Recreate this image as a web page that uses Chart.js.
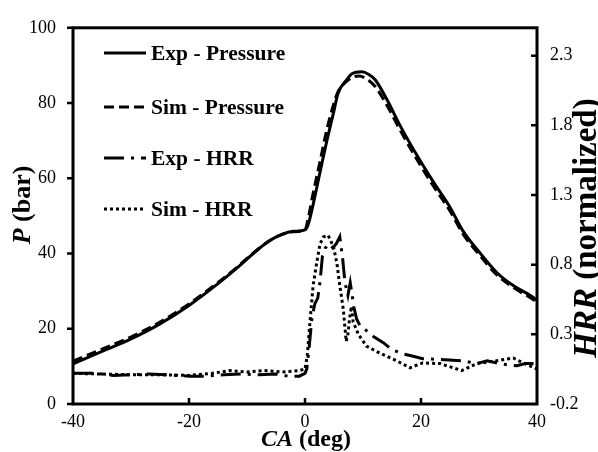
<!DOCTYPE html>
<html>
<head>
<meta charset="utf-8">
<script src="https://cdn.jsdelivr.net/npm/chart.js@4.4.1/dist/chart.umd.min.js"></script>
<style>
html,body{margin:0;padding:0;background:#fff;}
#wrap{width:598px;height:452px;position:relative;}
</style>
</head>
<body>
<div id="wrap"><canvas id="c" width="598" height="452"></canvas></div>
<script>
// ---- data ----
const expPressureCA = [-40,-35,-30,-25,-20,-15,-12,-10,-8,-6,-4,-2,0,0.5,1.4,2.6,3.7,4.9,5.7,7.2,8.1,9.8,11,12.1,14.1,16.4,19.3,22.1,25,27.2,30.2,33.1,35.9,38.8,40];
const expPressureP  = [10.7,14.0,17.3,21.3,26.2,32.0,35.8,38.5,41.2,43.5,45.1,45.9,46.3,47.5,53,61.7,69.5,77.3,82.6,86.2,87.8,88.3,87.6,86.2,81,74,66.1,59.1,52.3,46.1,40.1,34.9,31.5,28.9,27.6];

const simPressureCA = [-40,-35,-30,-25,-20,-15,-12,-10,-8,-6,-4,-2,0,0.5,1.4,2.6,3.7,4.9,5.7,7.2,8.1,9.3,11,12.1,14.1,16.4,19.3,22.1,25,27.2,30.2,33.1,35.9,38.8,40];
const simPressureP  = [11.4,14.6,17.8,21.8,26.6,32.3,36,38.7,41.3,43.5,45,45.8,46.2,49,56,64.5,72.5,79.5,83,85.8,86.8,87.2,86,84.4,79.5,72.8,65,58,51.3,45.3,39.4,34.3,31,28.3,27.1];

const expHrrCA  = [-40,-36,-33,-30,-27,-24,-20,-17,-14,-11,-8,-5,-3,-1,0,0.3,0.7,1.2,1.7,2.2,2.6,3.0,3.5,4.2,4.8,5.4,6.0,6.5,6.9,7.4,7.8,8.1,8.4,8.9,9.5,10.5,11.8,13.5,15,16.9,18.5,20.3,23.3,27.3,29.6,31.4,33.6,35,36.5,38,40];
const expHrrVal = [0.02,0.02,0.005,0.01,0.015,0.01,0.0,0.0,0.01,0.015,0.01,0.015,0.0,0.0,0.02,0.05,0.2,0.42,0.52,0.56,0.68,0.86,0.92,0.95,0.92,0.95,1.0,0.84,0.67,0.58,0.67,0.59,0.5,0.41,0.36,0.33,0.285,0.24,0.19,0.16,0.145,0.125,0.12,0.11,0.09,0.11,0.09,0.08,0.075,0.09,0.09];

const simHrrCA  = [-40,-35,-30,-25,-20,-16,-13,-10,-7,-4,-1,0,0.4,0.9,1.4,2.0,2.6,3.2,4.0,4.9,5.5,6.0,6.6,7.1,7.4,7.7,8.0,8.3,9.2,10.6,12.9,15.8,18.1,20.3,23.3,27,29.6,33,35.9,37.6,40];
const simHrrVal = [0.02,0.015,0.01,0.01,0.005,0.02,0.04,0.03,0.04,0.03,0.04,0.05,0.15,0.41,0.65,0.81,0.95,1.0,1.01,0.93,0.81,0.65,0.48,0.25,0.3,0.42,0.5,0.39,0.3,0.215,0.165,0.11,0.06,0.095,0.09,0.04,0.09,0.11,0.13,0.095,0.05];

const xTicks = [-40,-20,0,20,40];
const pTicks = [0,20,40,60,80,100];
const hrrTicks = [-0.2,0.3,0.8,1.3,1.8,2.3];

const legendLabels = ['Exp - Pressure','Sim - Pressure','Exp - HRR','Sim - HRR'];

const pts = (xs, ys) => xs.map((x,i)=>({x:x,y:ys[i]}));

const SERIF = '"Liberation Serif", "Times New Roman", serif';
const dashes = [[], [10,5], [20,7,3,7], [3,3]];
const widths = [3, 3, 3, 3];

const decorPlugin = {
  id: 'decor',
  afterDraw(chart) {
    const ctx = chart.ctx;
    const a = chart.chartArea;
    const sx = chart.scales.x, sy = chart.scales.y, sr = chart.scales.y1;
    ctx.save();
    ctx.strokeStyle = '#000';
    ctx.fillStyle = '#000';
    // frame
    ctx.lineWidth = 3;
    ctx.setLineDash([]);
    ctx.strokeRect(a.left, a.top, a.right - a.left, a.bottom - a.top);
    // ticks
    ctx.lineWidth = 2.5;
    ctx.beginPath();
    pTicks.forEach(v => { const y = sy.getPixelForValue(v); ctx.moveTo(a.left - 6, y); ctx.lineTo(a.left, y); });
    xTicks.slice(1, -1).forEach(v => { const x = sx.getPixelForValue(v); ctx.moveTo(x, a.bottom); ctx.lineTo(x, a.bottom - 6); });
    hrrTicks.slice(1).forEach(v => { const y = sr.getPixelForValue(v); ctx.moveTo(a.right, y); ctx.lineTo(a.right - 6, y); });
    ctx.stroke();

    // mixed-font text helper
    function drawMixed(parts, cx, cy, rot) {
      ctx.save();
      ctx.translate(cx, cy);
      if (rot) ctx.rotate(rot);
      let total = 0;
      parts.forEach(p => { ctx.font = p[1]; total += ctx.measureText(p[0]).width; });
      let x = -total / 2;
      ctx.textBaseline = 'alphabetic';
      ctx.textAlign = 'left';
      parts.forEach(p => { ctx.font = p[1]; ctx.fillText(p[0], x, 0); x += ctx.measureText(p[0]).width; });
      ctx.restore();
    }
    // axis titles
    drawMixed([['CA', 'bold italic 24px ' + SERIF], [' (deg)', 'bold 24px ' + SERIF]], 306, 446, 0);
    drawMixed([['P', 'bold italic 26px ' + SERIF], [' (bar)', 'bold 26px ' + SERIF]], 30, 205, -Math.PI / 2);
    drawMixed([['HRR', 'bold italic 33px ' + SERIF], [' (normalized)', 'bold 33px ' + SERIF]], 596, 228, -Math.PI / 2);

    // legend
    const rows = [53, 107, 158, 209];
    ctx.lineCap = 'butt';
    legendLabels.forEach((lab, i) => {
      ctx.lineWidth = widths[i];
      ctx.setLineDash(dashes[i]);
      ctx.beginPath();
      ctx.moveTo(104, rows[i]);
      ctx.lineTo(146, rows[i]);
      ctx.stroke();
      ctx.setLineDash([]);
      ctx.font = 'bold 21.5px ' + SERIF;
      ctx.textBaseline = 'middle';
      ctx.textAlign = 'left';
      ctx.fillText(lab, 151, rows[i] + 1);
    });
    ctx.restore();
  }
};

new Chart(document.getElementById('c'), {
  type: 'line',
  data: {
    datasets: [
      { label: legendLabels[0], data: pts(expPressureCA, expPressureP), yAxisID: 'y', borderColor: '#000', borderWidth: widths[0], borderDash: dashes[0], pointRadius: 0, cubicInterpolationMode: 'monotone', fill: false },
      { label: legendLabels[1], data: pts(simPressureCA, simPressureP), yAxisID: 'y', borderColor: '#000', borderWidth: widths[1], borderDash: dashes[1], pointRadius: 0, cubicInterpolationMode: 'monotone', fill: false },
      { label: legendLabels[2], data: pts(expHrrCA, expHrrVal), yAxisID: 'y1', borderColor: '#000', borderWidth: widths[2], borderDash: dashes[2], pointRadius: 0, tension: 0, fill: false },
      { label: legendLabels[3], data: pts(simHrrCA, simHrrVal), yAxisID: 'y1', borderColor: '#000', borderWidth: widths[3], borderDash: dashes[3], pointRadius: 0, tension: 0, fill: false }
    ]
  },
  options: {
    responsive: false,
    animation: false,
    layout: { padding: { top: 20, left: 0, right: 0, bottom: 0 } },
    plugins: { legend: { display: false }, tooltip: { enabled: false } },
    scales: {
      x: {
        type: 'linear', min: -40, max: 40,
        afterBuildTicks: s => { s.ticks = xTicks.map(v => ({ value: v })); },
        afterFit: s => { s.height = 48; },
        grid: { display: false, drawTicks: false },
        border: { display: false },
        ticks: { color: '#000', font: { family: SERIF, size: 18 }, padding: 7, maxRotation: 0, autoSkip: false }
      },
      y: {
        position: 'left', min: 0, max: 100,
        afterBuildTicks: s => { s.ticks = pTicks.map(v => ({ value: v })); },
        afterFit: s => { s.width = 73; },
        grid: { display: false, drawTicks: false },
        border: { display: false },
        ticks: { color: '#000', font: { family: SERIF, size: 18 }, padding: 17, autoSkip: false }
      },
      y1: {
        position: 'right', min: -0.2, max: 2.5,
        afterBuildTicks: s => { s.ticks = hrrTicks.map(v => ({ value: v })); },
        afterFit: s => { s.width = 61; },
        grid: { display: false, drawTicks: false },
        border: { display: false },
        ticks: { color: '#000', font: { family: SERIF, size: 18 }, padding: 13, autoSkip: false,
                 callback: v => String(Math.round(v * 10) / 10) }
      }
    }
  },
  plugins: [decorPlugin]
});
</script>
</body>
</html>
